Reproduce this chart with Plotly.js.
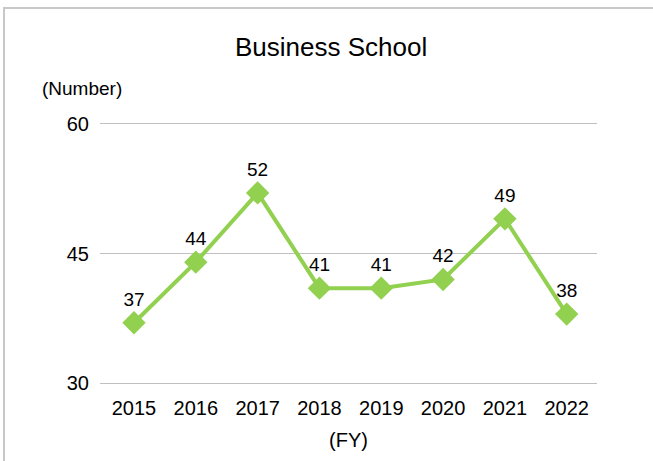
<!DOCTYPE html>
<html>
<head>
<meta charset="utf-8">
<script src="https://cdn.plot.ly/plotly-3.0.1.min.js"></script>
<style>
html,body{margin:0;padding:0;background:#fff;}
#wrap{position:absolute;left:0;top:0;width:653px;height:461px;}
#frame{position:absolute;left:3px;top:7px;width:660px;height:470px;border-left:2px solid #c8c8c8;border-top:2px solid #c8c8c8;pointer-events:none;}
#chart{position:absolute;left:0;top:0;width:653px;height:461px;}
</style>
</head>
<body>
<div id="wrap"><div id="chart"></div><div id="frame"></div></div>
<script>
const years = ['2015','2016','2017','2018','2019','2020','2021','2022'];
const counts = [37, 44, 52, 41, 41, 42, 49, 38];
const yTicks = [30, 45, 60];

const green = '#92D050';
const font = 'Arial, "Liberation Sans", sans-serif';

Plotly.newPlot('chart', [{
  x: years,
  y: counts,
  type: 'scatter',
  mode: 'lines+markers+text',
  text: counts.map(String),
  textposition: 'top center',
  textfont: {family: font, size: 19, color: '#000'},
  line: {color: green, width: 4},
  marker: {symbol: 'diamond', size: 18, color: green},
  cliponaxis: false,
  hoverinfo: 'skip'
}], {
  width: 653,
  height: 461,
  margin: {l: 100, r: 56, t: 121, b: 75},
  paper_bgcolor: '#fff',
  plot_bgcolor: '#fff',
  showlegend: false,
  title: {
    text: 'Business School',
    font: {family: font, size: 26, color: '#000'},
    x: 0.465, xanchor: 'center', xref: 'paper',
    y: 1 - 47/461, yanchor: 'middle', yref: 'container'
  },
  xaxis: {
    type: 'category',
    range: [-0.55, 7.49],
    showgrid: false,
    showline: false,
    zeroline: false,
    ticks: '',
    tickfont: {family: font, size: 20, color: '#000'},
    ticklabelstandoff: 8,
    title: {text: '(FY)', font: {family: font, size: 20, color: '#000'}, standoff: 14}
  },
  yaxis: {
    range: [29.7, 60.3],
    tickvals: yTicks,
    ticktext: yTicks.map(String),
    showgrid: true,
    gridcolor: '#c0c0c0',
    gridwidth: 1.5,
    showline: false,
    zeroline: false,
    ticks: '',
    ticklabelstandoff: 10,
    tickfont: {family: font, size: 20, color: '#000'}
  },
  annotations: [{
    text: '(Number)',
    xref: 'paper', yref: 'paper',
    x: -0.036, y: 1 + 33/265,
    xanchor: 'center', yanchor: 'middle',
    showarrow: false,
    font: {family: font, size: 19, color: '#000'}
  }]
}, {displayModeBar: false, staticPlot: true});
</script>
</body>
</html>
